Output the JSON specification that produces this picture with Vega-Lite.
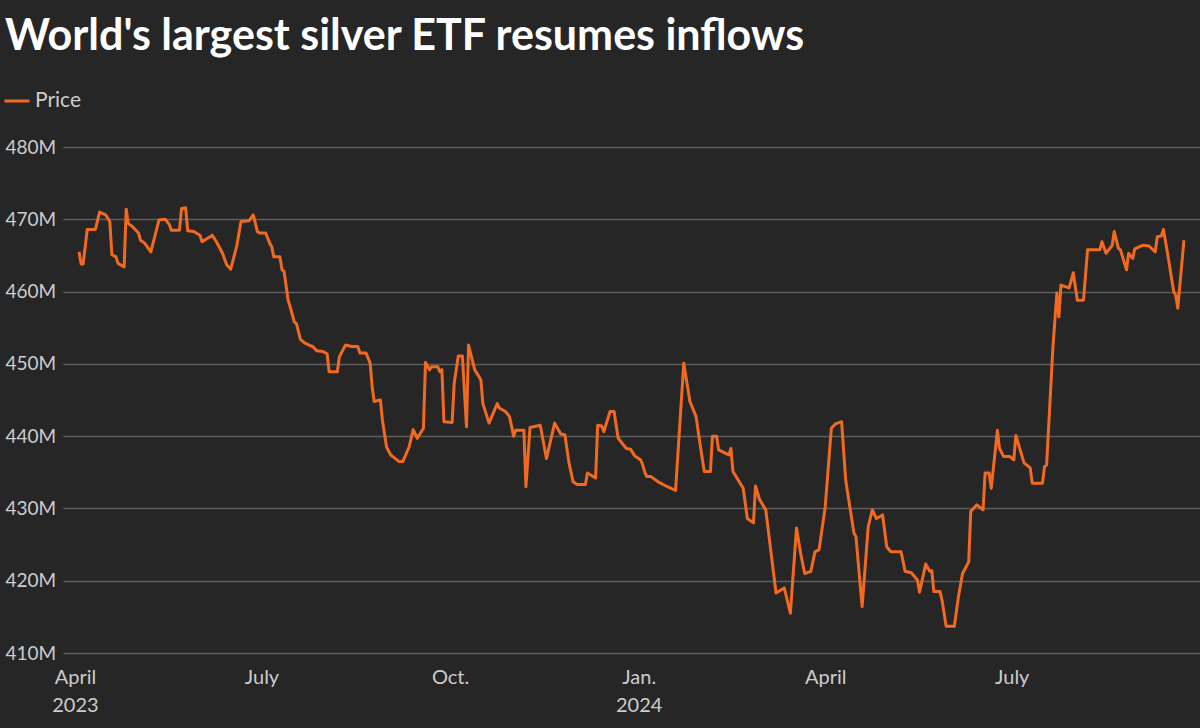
{
  "$schema": "https://vega.github.io/schema/vega-lite/v6.json",
  "width": 1137,
  "height": 506,
  "autosize": {"type": "none"},
  "padding": {"left": 63, "top": 147, "right": 0, "bottom": 75},
  "background": "#262626",
  "title": {
    "text": "World's largest silver ETF resumes inflows",
    "anchor": "start",
    "frame": "group",
    "dx": -58,
    "offset": 0,
    "dy": -28,
    "font": "Lato",
    "fontSize": 43,
    "fontWeight": "bold",
    "color": "#ffffff"
  },
  "config": {
    "view": {"stroke": null},
    "font": "Lato"
  },
  "data": {
    "values": [
      {"date": "2023-04-03", "price": 465.5},
      {"date": "2023-04-04", "price": 463.8},
      {"date": "2023-04-05", "price": 463.8},
      {"date": "2023-04-07", "price": 468.6},
      {"date": "2023-04-11", "price": 468.6},
      {"date": "2023-04-13", "price": 471.0},
      {"date": "2023-04-16", "price": 470.6},
      {"date": "2023-04-18", "price": 469.7},
      {"date": "2023-04-19", "price": 465.1},
      {"date": "2023-04-21", "price": 464.8},
      {"date": "2023-04-22", "price": 463.9},
      {"date": "2023-04-25", "price": 463.4},
      {"date": "2023-04-26", "price": 471.4},
      {"date": "2023-04-27", "price": 469.4},
      {"date": "2023-04-29", "price": 469.0},
      {"date": "2023-05-02", "price": 468.1},
      {"date": "2023-05-03", "price": 467.1},
      {"date": "2023-05-05", "price": 466.7},
      {"date": "2023-05-08", "price": 465.5},
      {"date": "2023-05-12", "price": 469.9},
      {"date": "2023-05-15", "price": 470.0},
      {"date": "2023-05-17", "price": 469.3},
      {"date": "2023-05-18", "price": 468.5},
      {"date": "2023-05-22", "price": 468.5},
      {"date": "2023-05-23", "price": 471.5},
      {"date": "2023-05-25", "price": 471.6},
      {"date": "2023-05-26", "price": 468.4},
      {"date": "2023-05-29", "price": 468.3},
      {"date": "2023-06-01", "price": 467.8},
      {"date": "2023-06-02", "price": 466.9},
      {"date": "2023-06-07", "price": 467.8},
      {"date": "2023-06-09", "price": 466.9},
      {"date": "2023-06-12", "price": 465.3},
      {"date": "2023-06-14", "price": 463.7},
      {"date": "2023-06-16", "price": 463.1},
      {"date": "2023-06-19", "price": 466.4},
      {"date": "2023-06-21", "price": 469.7},
      {"date": "2023-06-25", "price": 469.8},
      {"date": "2023-06-27", "price": 470.6},
      {"date": "2023-06-29", "price": 468.3},
      {"date": "2023-06-30", "price": 468.1},
      {"date": "2023-07-03", "price": 468.1},
      {"date": "2023-07-05", "price": 466.7},
      {"date": "2023-07-06", "price": 466.2},
      {"date": "2023-07-07", "price": 464.8},
      {"date": "2023-07-10", "price": 464.8},
      {"date": "2023-07-11", "price": 463.0},
      {"date": "2023-07-12", "price": 462.8},
      {"date": "2023-07-14", "price": 458.8},
      {"date": "2023-07-15", "price": 457.9},
      {"date": "2023-07-17", "price": 455.8},
      {"date": "2023-07-18", "price": 455.6},
      {"date": "2023-07-20", "price": 453.4},
      {"date": "2023-07-22", "price": 452.9},
      {"date": "2023-07-25", "price": 452.5},
      {"date": "2023-07-26", "price": 452.4},
      {"date": "2023-07-28", "price": 451.8},
      {"date": "2023-07-31", "price": 451.7},
      {"date": "2023-08-02", "price": 451.4},
      {"date": "2023-08-03", "price": 448.9},
      {"date": "2023-08-07", "price": 448.9},
      {"date": "2023-08-08", "price": 451.0},
      {"date": "2023-08-11", "price": 452.6},
      {"date": "2023-08-14", "price": 452.4},
      {"date": "2023-08-17", "price": 452.4},
      {"date": "2023-08-18", "price": 451.5},
      {"date": "2023-08-21", "price": 451.5},
      {"date": "2023-08-23", "price": 450.1},
      {"date": "2023-08-24", "price": 446.8},
      {"date": "2023-08-25", "price": 444.8},
      {"date": "2023-08-28", "price": 445.0},
      {"date": "2023-08-29", "price": 442.2},
      {"date": "2023-08-31", "price": 438.5},
      {"date": "2023-09-02", "price": 437.4},
      {"date": "2023-09-06", "price": 436.5},
      {"date": "2023-09-08", "price": 436.5},
      {"date": "2023-09-11", "price": 438.5},
      {"date": "2023-09-13", "price": 440.9},
      {"date": "2023-09-15", "price": 439.7},
      {"date": "2023-09-18", "price": 441.1},
      {"date": "2023-09-19", "price": 450.2},
      {"date": "2023-09-21", "price": 449.2},
      {"date": "2023-09-22", "price": 449.6},
      {"date": "2023-09-25", "price": 449.6},
      {"date": "2023-09-26", "price": 448.9},
      {"date": "2023-09-27", "price": 449.2},
      {"date": "2023-09-28", "price": 442.0},
      {"date": "2023-10-02", "price": 441.9},
      {"date": "2023-10-03", "price": 447.3},
      {"date": "2023-10-05", "price": 451.1},
      {"date": "2023-10-07", "price": 451.1},
      {"date": "2023-10-09", "price": 441.3},
      {"date": "2023-10-10", "price": 452.6},
      {"date": "2023-10-13", "price": 449.2},
      {"date": "2023-10-16", "price": 447.8},
      {"date": "2023-10-17", "price": 444.5},
      {"date": "2023-10-20", "price": 441.8},
      {"date": "2023-10-24", "price": 444.5},
      {"date": "2023-10-25", "price": 443.9},
      {"date": "2023-10-28", "price": 443.4},
      {"date": "2023-10-30", "price": 442.7},
      {"date": "2023-11-01", "price": 440.0},
      {"date": "2023-11-02", "price": 440.8},
      {"date": "2023-11-06", "price": 440.8},
      {"date": "2023-11-07", "price": 433.0},
      {"date": "2023-11-09", "price": 441.2},
      {"date": "2023-11-14", "price": 441.5},
      {"date": "2023-11-17", "price": 436.9},
      {"date": "2023-11-21", "price": 441.8},
      {"date": "2023-11-24", "price": 440.3},
      {"date": "2023-11-26", "price": 440.2},
      {"date": "2023-11-28", "price": 436.3},
      {"date": "2023-11-30", "price": 433.7},
      {"date": "2023-12-02", "price": 433.3},
      {"date": "2023-12-06", "price": 433.3},
      {"date": "2023-12-07", "price": 434.9},
      {"date": "2023-12-11", "price": 434.2},
      {"date": "2023-12-12", "price": 441.5},
      {"date": "2023-12-14", "price": 441.4},
      {"date": "2023-12-15", "price": 440.6},
      {"date": "2023-12-18", "price": 443.4},
      {"date": "2023-12-20", "price": 443.4},
      {"date": "2023-12-22", "price": 439.7},
      {"date": "2023-12-26", "price": 438.3},
      {"date": "2023-12-28", "price": 438.2},
      {"date": "2023-12-30", "price": 437.3},
      {"date": "2024-01-02", "price": 436.7},
      {"date": "2024-01-03", "price": 436.0},
      {"date": "2024-01-04", "price": 435.0},
      {"date": "2024-01-05", "price": 434.4},
      {"date": "2024-01-07", "price": 434.4},
      {"date": "2024-01-11", "price": 433.6},
      {"date": "2024-01-15", "price": 433.0},
      {"date": "2024-01-19", "price": 432.5},
      {"date": "2024-01-23", "price": 450.1},
      {"date": "2024-01-26", "price": 444.8},
      {"date": "2024-01-29", "price": 442.7},
      {"date": "2024-01-31", "price": 438.8},
      {"date": "2024-02-02", "price": 435.1},
      {"date": "2024-02-05", "price": 435.1},
      {"date": "2024-02-06", "price": 440.0},
      {"date": "2024-02-08", "price": 440.0},
      {"date": "2024-02-09", "price": 438.1},
      {"date": "2024-02-14", "price": 437.4},
      {"date": "2024-02-15", "price": 438.3},
      {"date": "2024-02-16", "price": 435.1},
      {"date": "2024-02-21", "price": 432.8},
      {"date": "2024-02-23", "price": 428.6},
      {"date": "2024-02-26", "price": 428.0},
      {"date": "2024-02-27", "price": 433.1},
      {"date": "2024-02-29", "price": 431.2},
      {"date": "2024-03-03", "price": 429.8},
      {"date": "2024-03-08", "price": 418.3},
      {"date": "2024-03-12", "price": 419.0},
      {"date": "2024-03-15", "price": 415.5},
      {"date": "2024-03-18", "price": 427.3},
      {"date": "2024-03-20", "price": 423.8},
      {"date": "2024-03-22", "price": 421.0},
      {"date": "2024-03-25", "price": 421.3},
      {"date": "2024-03-27", "price": 424.0},
      {"date": "2024-03-29", "price": 424.3},
      {"date": "2024-04-01", "price": 430.2},
      {"date": "2024-04-04", "price": 441.1},
      {"date": "2024-04-06", "price": 441.7},
      {"date": "2024-04-09", "price": 442.0},
      {"date": "2024-04-11", "price": 433.9},
      {"date": "2024-04-15", "price": 426.6},
      {"date": "2024-04-16", "price": 426.1},
      {"date": "2024-04-19", "price": 416.4},
      {"date": "2024-04-22", "price": 427.5},
      {"date": "2024-04-24", "price": 429.8},
      {"date": "2024-04-26", "price": 428.6},
      {"date": "2024-04-29", "price": 429.1},
      {"date": "2024-05-01", "price": 424.7},
      {"date": "2024-05-03", "price": 424.0},
      {"date": "2024-05-08", "price": 424.0},
      {"date": "2024-05-10", "price": 421.3},
      {"date": "2024-05-13", "price": 421.1},
      {"date": "2024-05-16", "price": 420.1},
      {"date": "2024-05-17", "price": 418.4},
      {"date": "2024-05-20", "price": 422.3},
      {"date": "2024-05-22", "price": 421.3},
      {"date": "2024-05-23", "price": 421.4},
      {"date": "2024-05-24", "price": 418.5},
      {"date": "2024-05-27", "price": 418.5},
      {"date": "2024-05-28", "price": 417.3},
      {"date": "2024-05-30", "price": 413.7},
      {"date": "2024-06-03", "price": 413.7},
      {"date": "2024-06-05", "price": 417.8},
      {"date": "2024-06-07", "price": 421.0},
      {"date": "2024-06-10", "price": 422.6},
      {"date": "2024-06-11", "price": 429.6},
      {"date": "2024-06-14", "price": 430.5},
      {"date": "2024-06-17", "price": 429.8},
      {"date": "2024-06-18", "price": 434.9},
      {"date": "2024-06-20", "price": 434.9},
      {"date": "2024-06-21", "price": 432.8},
      {"date": "2024-06-24", "price": 440.8},
      {"date": "2024-06-25", "price": 438.3},
      {"date": "2024-06-27", "price": 437.2},
      {"date": "2024-06-30", "price": 437.2},
      {"date": "2024-07-02", "price": 436.7},
      {"date": "2024-07-03", "price": 440.1},
      {"date": "2024-07-07", "price": 436.3},
      {"date": "2024-07-10", "price": 435.6},
      {"date": "2024-07-11", "price": 433.5},
      {"date": "2024-07-16", "price": 433.5},
      {"date": "2024-07-17", "price": 435.8},
      {"date": "2024-07-18", "price": 436.0},
      {"date": "2024-07-21", "price": 451.9},
      {"date": "2024-07-23", "price": 459.8},
      {"date": "2024-07-24", "price": 456.5},
      {"date": "2024-07-25", "price": 460.9},
      {"date": "2024-07-29", "price": 460.5},
      {"date": "2024-07-31", "price": 462.6},
      {"date": "2024-08-02", "price": 458.8},
      {"date": "2024-08-05", "price": 458.8},
      {"date": "2024-08-07", "price": 465.8},
      {"date": "2024-08-13", "price": 465.8},
      {"date": "2024-08-14", "price": 466.9},
      {"date": "2024-08-16", "price": 465.3},
      {"date": "2024-08-19", "price": 466.4},
      {"date": "2024-08-20", "price": 468.3},
      {"date": "2024-08-22", "price": 466.0},
      {"date": "2024-08-23", "price": 465.8},
      {"date": "2024-08-26", "price": 463.0},
      {"date": "2024-08-27", "price": 465.3},
      {"date": "2024-08-29", "price": 464.6},
      {"date": "2024-08-30", "price": 465.9},
      {"date": "2024-09-02", "price": 466.3},
      {"date": "2024-09-03", "price": 466.4},
      {"date": "2024-09-06", "price": 466.3},
      {"date": "2024-09-09", "price": 465.5},
      {"date": "2024-09-10", "price": 467.6},
      {"date": "2024-09-12", "price": 467.7},
      {"date": "2024-09-13", "price": 468.6},
      {"date": "2024-09-15", "price": 465.3},
      {"date": "2024-09-18", "price": 460.0},
      {"date": "2024-09-19", "price": 459.5},
      {"date": "2024-09-20", "price": 457.7},
      {"date": "2024-09-23", "price": 467.1}
    ]
  },
  "mark": {"type": "line", "strokeWidth": 3, "strokeJoin": "round"},
  "encoding": {
    "x": {
      "field": "date",
      "type": "temporal",
      "scale": {
        "type": "utc",
        "domain": [
          {"year": 2023, "month": 3, "date": 26, "hours": 4, "utc": true},
          {"year": 2024, "month": 9, "date": 30, "hours": 20, "utc": true}
        ]
      },
      "axis": {
        "title": null,
        "values": [
          {"year": 2023, "month": 4, "date": 1, "utc": true},
          {"year": 2023, "month": 7, "date": 1, "utc": true},
          {"year": 2023, "month": 10, "date": 1, "utc": true},
          {"year": 2024, "month": 1, "date": 1, "utc": true},
          {"year": 2024, "month": 4, "date": 1, "utc": true},
          {"year": 2024, "month": 7, "date": 1, "utc": true}
        ],
        "labelExpr": "(utcmonth(datum.value) == 0 || (utcyear(datum.value) == 2023 && utcmonth(datum.value) == 3)) ? [['Jan.','Feb.','March','April','May','June','July','Aug.','Sept.','Oct.','Nov.','Dec.'][utcmonth(datum.value)], utcFormat(datum.value, '%Y')] : ['Jan.','Feb.','March','April','May','June','July','Aug.','Sept.','Oct.','Nov.','Dec.'][utcmonth(datum.value)]",
        "domain": false,
        "ticks": false,
        "tickSize": 0,
        "grid": false,
        "labelFont": "Lato",
        "labelFontSize": 20,
        "labelColor": "#cccccc",
        "labelPadding": 14,
        "labelLineHeight": 28,
        "labelBaseline": "top",
        "labelOverlap": false,
        "labelFlush": false,
        "labelBound": false
      }
    },
    "y": {
      "field": "price",
      "type": "quantitative",
      "scale": {"domain": [410, 480], "zero": false, "nice": false},
      "axis": {
        "title": null,
        "values": [410, 420, 430, 440, 450, 460, 470, 480],
        "labelExpr": "datum.value + 'M'",
        "domain": false,
        "ticks": false,
        "tickSize": 0,
        "grid": true,
        "gridColor": "#5e5e5e",
        "gridWidth": 1.3,
        "labelAlign": "left",
        "labelBaseline": "middle",
        "labelPadding": 58,
        "labelFont": "Lato",
        "labelFontSize": 19,
        "labelColor": "#cccccc"
      }
    },
    "color": {
      "datum": "Price",
      "type": "nominal",
      "scale": {"range": ["#f26a21"]},
      "legend": {
        "title": null,
        "orient": "none",
        "legendX": -60,
        "legendY": -60,
        "padding": 0,
        "symbolType": "stroke",
        "symbolStrokeWidth": 3,
        "symbolSize": 625,
        "labelFont": "Lato",
        "labelFontSize": 21,
        "labelColor": "#cccccc",
        "labelOffset": 4
      }
    }
  }
}
